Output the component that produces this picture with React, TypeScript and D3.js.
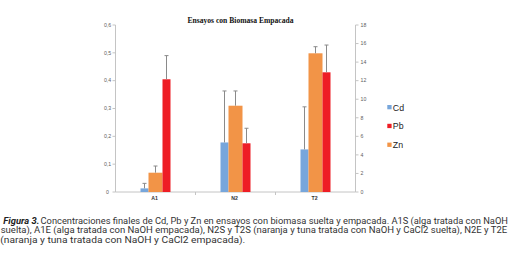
import React from "react";
import * as d3 from "d3";

const categories = ["A1", "N2", "T2"];
const seriesNames = ["Cd", "Pb", "Zn"];
const cdValues = [0.013, 0.178, 0.153];
const cdErrors = [0.018, 0.185, 0.153];
const pbValues = [0.405, 0.175, 0.43];
const pbErrors = [0.085, 0.054, 0.098];
const znValues = [2.08, 9.3, 14.95];
const znErrors = [0.72, 1.59, 0.71];
const leftTicks = [0, 0.1, 0.2, 0.3, 0.4, 0.5, 0.6];
const rightTicks = [0, 2, 4, 6, 8, 10, 12, 14, 16, 18];
const title = "Ensayos con Biomasa Empacada";
const captionBold = "Figura 3.";
const captionLines = [
  "Concentraciones finales de Cd, Pb y Zn en ensayos con biomasa suelta y empacada. A1S (alga tratada con NaOH",
  "suelta), A1E (alga tratada con NaOH empacada), N2S y T2S (naranja y tuna tratada con NaOH y CaCl2 suelta), N2E y T2E",
  "(naranja y tuna tratada con NaOH y CaCl2 empacada).",
];

const colors: Record<string, string> = { Cd: "#77A6DB", Pb: "#EE1D25", Zn: "#F29447" };

export default function App() {
  const W = 511, H = 259;
  const left = 115.5, right = 355.5, top = 25, bottom = 192;
  const x = d3.scaleBand<string>().domain(categories).range([left, right]);
  const yL = d3.scaleLinear().domain([0, 0.6]).range([bottom, top]);
  const yR = d3.scaleLinear().domain([0, 18]).range([bottom, top]);

  // bar layout within group: Cd (narrow), Zn (wide), Pb (narrow)
  const layout = [
    { name: "Cd", vals: cdValues, errs: cdErrors, scale: yL, off: -15, w: 8 },
    { name: "Zn", vals: znValues, errs: znErrors, scale: yR, off: -7, w: 14 },
    { name: "Pb", vals: pbValues, errs: pbErrors, scale: yL, off: 7, w: 8 },
  ];
  const axisColor = "#c4c4c4";
  const tickText = "#606060";

  return (
    <div style={{ position: "absolute", left: 0, top: 0 }}>
      <svg width={W} height={H} style={{ display: "block", background: "#fff" }}>
        <text x={240.5} y={23} textAnchor="middle" fontFamily="Liberation Serif, serif" fontWeight="bold" fontSize={7.6} fill="#111">{title}</text>

        {/* left axis */}
        <line x1={left} x2={left} y1={top} y2={bottom} stroke={axisColor} strokeWidth={1} />
        {leftTicks.map((t) => (
          <g key={"l" + t}>
            <line x1={left - 3} x2={left} y1={yL(t)} y2={yL(t)} stroke={axisColor} />
            <text x={left - 8} y={yL(t) + 1.8} textAnchor="middle" fontFamily="Liberation Sans, Arial, sans-serif" fontSize={5.2} fill={tickText}>
              {t === 0 ? "0" : d3.format(".1f")(t).replace(".", ",")}
            </text>
          </g>
        ))}
        {/* right axis */}
        <line x1={right} x2={right} y1={top} y2={bottom} stroke={axisColor} strokeWidth={1} />
        {rightTicks.map((t) => (
          <g key={"r" + t}>
            <line x1={right} x2={right + 3} y1={yR(t)} y2={yR(t)} stroke={axisColor} />
            <text x={right + 5} y={yR(t) + 1.8} textAnchor="start" fontFamily="Liberation Sans, Arial, sans-serif" fontSize={5.2} fill={tickText}>
              {t}
            </text>
          </g>
        ))}
        {/* bottom axis */}
        <line x1={left} x2={right} y1={bottom} y2={bottom} stroke={axisColor} strokeWidth={1} />
        {categories.slice(1).map((c) => (
          <line key={"t" + c} x1={x(c)!} x2={x(c)!} y1={bottom} y2={bottom + 3} stroke={axisColor} />
        ))}
        {categories.map((c) => (
          <text key={"c" + c} x={(x(c)! + x.bandwidth() / 2) - 1} y={200} textAnchor="middle" fontFamily="Liberation Sans, Arial, sans-serif" fontWeight="bold" fontSize={5.2} fill="#333">{c}</text>
        ))}

        {/* bars */}
        {layout.map((s) =>
          categories.map((c, i) => {
            const cx = x(c)! + x.bandwidth() / 2;
            const x0 = cx + s.off;
            const yTop = s.scale(s.vals[i]);
            return (
              <rect key={s.name + c} x={x0} y={yTop} width={s.w} height={bottom - yTop} fill={colors[s.name]} />
            );
          })
        )}
        {/* error bars */}
        {layout.map((s) =>
          categories.map((c, i) => {
            const cx = x(c)! + x.bandwidth() / 2 + s.off + s.w / 2;
            const y1 = s.scale(s.vals[i]);
            const y2 = s.scale(s.vals[i] + s.errs[i]);
            return (
              <g key={"e" + s.name + c} stroke="#8a8a8a" strokeWidth={1}>
                <line x1={cx} x2={cx} y1={y1} y2={y2} />
                <line x1={cx - 2} x2={cx + 2} y1={y2} y2={y2} />
              </g>
            );
          })
        )}

        {/* legend */}
        {seriesNames.map((n, i) => (
          <g key={"lg" + n}>
            <rect x={387.3} y={105 + i * 18.8} width={4.3} height={4.3} fill={colors[n]} />
            <text x={392.8} y={110.5 + i * 18.8} fontFamily="Liberation Sans, Arial, sans-serif" fontSize={8.8} fill="#222">{n}</text>
          </g>
        ))}

        {/* caption */}
        <text x={3.3} y={223.5} fontFamily="Roboto, sans-serif" fontStyle="italic" fontWeight="bold" fontSize={9} fill="#222" textLength={36} lengthAdjust="spacingAndGlyphs">{captionBold}</text>
        <text x={40.5} y={223.5} fontFamily="Roboto, sans-serif" fontSize={9} fill="#333" textLength={467.5} lengthAdjust="spacingAndGlyphs">{captionLines[0]}</text>
        <text x={0.7} y={233.3} fontFamily="Roboto, sans-serif" fontSize={9} fill="#333" textLength={506.5} lengthAdjust="spacingAndGlyphs">{captionLines[1]}</text>
        <text x={0.3} y={243} fontFamily="Roboto, sans-serif" fontSize={9} fill="#333" textLength={245} lengthAdjust="spacingAndGlyphs">{captionLines[2]}</text>
      </svg>
    </div>
  );
}
